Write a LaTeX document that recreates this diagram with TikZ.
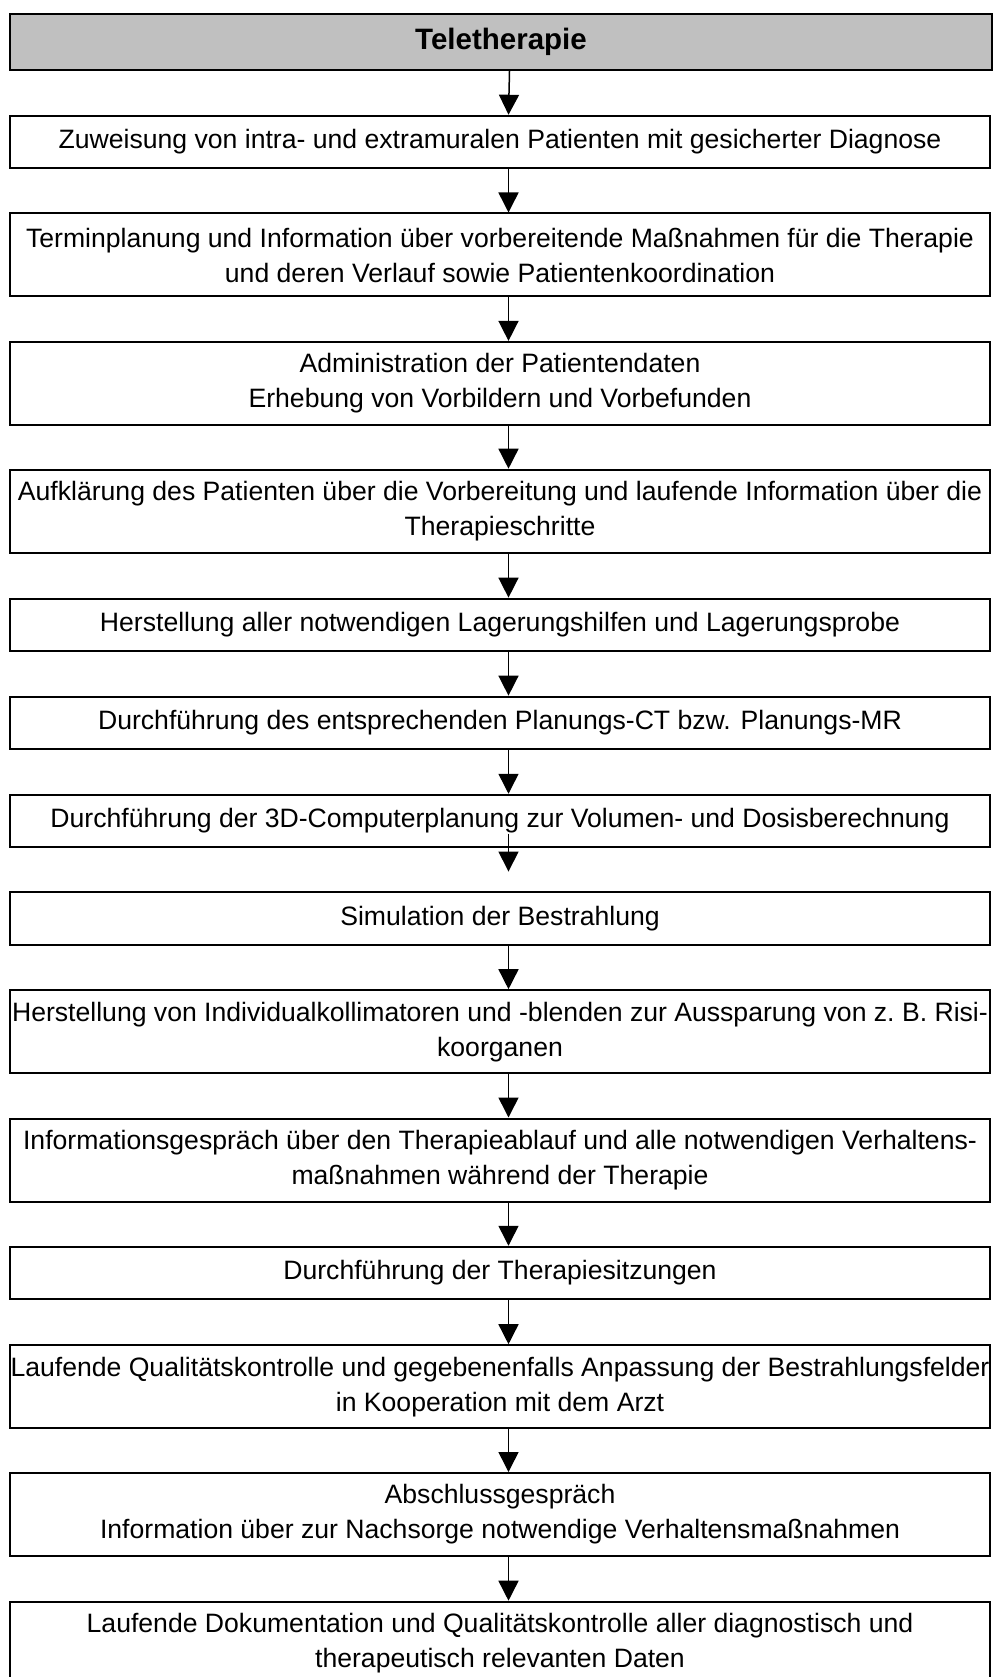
\documentclass[tikz,border=0pt]{standalone}
\usepackage{fontspec}
\setmainfont{Liberation Sans}
\usetikzlibrary{arrows.meta}
\definecolor{headgray}{RGB}{192,192,192}
\begin{document}
\begin{tikzpicture}[x=1pt,y=-1pt,
  stepbox/.style={draw=black,line width=2pt,minimum width=980pt,inner sep=0pt,align=center,
    font=\fontsize{26.6}{35}\selectfont},
  onebox/.style={stepbox,minimum height=52.5pt},
  twobox/.style={stepbox,minimum height=83pt},
  headbox/.style={draw=black,line width=2pt,fill=headgray,minimum width=982pt,minimum height=56pt,
    inner sep=0pt,font=\fontsize{29.5}{35}\selectfont\bfseries},
  arr/.style={line width=1.5pt,-{Triangle[width=20pt,length=20pt]}}]
\useasboundingbox (0,0) rectangle (993,1677);
\fill[white] (0,0) rectangle (993,1677);
\node[headbox] (h) at (501,42) {Teletherapie};
\node[onebox] (b1) at (500,142) {Zuweisung von intra- und extramuralen Patienten mit gesicherter Diagnose};
\node[twobox] (b2) at (500,255) {Terminplanung und Information über vorbereitende Maßnahmen für die Therapie\\und deren Verlauf sowie Patientenkoordination};
\node[twobox] (b3) at (500,383.4) {Administration der Patientendaten\\Erhebung von Vorbildern und Vorbefunden};
\node[twobox] (b4) at (500,511.2) {Aufklärung des Patienten über die Vorbereitung und laufende Information über die\\Therapieschritte};
\node[onebox] (b5) at (500,624.9) {Herstellung aller notwendigen Lagerungshilfen und Lagerungsprobe};
\node[onebox] (b6) at (500,722.9) {Durchführung des entsprechenden Planungs-CT bzw. Planungs-MR};
\node[onebox] (b7) at (500,821) {Durchführung der 3D-Computerplanung zur Volumen- und Dosisberechnung};
\node[onebox] (b8) at (500,918.5) {Simulation der Bestrahlung};
\node[twobox] (b9) at (500,1031.7) {Herstellung von Individualkollimatoren und -blenden zur Aussparung von z.\ B. Risi-\\koorganen};
\node[twobox] (b10) at (500,1160) {Informationsgespräch über den Therapieablauf und alle notwendigen Verhaltens-\\maßnahmen während der Therapie};
\node[onebox] (b11) at (500,1273) {Durchführung der Therapiesitzungen};
\node[twobox] (b12) at (500,1386.7) {Laufende Qualitätskontrolle und gegebenenfalls Anpassung der Bestrahlungsfelder\\in Kooperation mit dem Arzt};
\node[twobox] (b13) at (500,1514.5) {Abschlussgespräch\\Information über zur Nachsorge notwendige Verhaltensmaßnahmen};
\node[twobox] (b14) at (500,1643.2) {Laufende Dokumentation und Qualitätskontrolle aller diagnostisch und\\therapeutisch relevanten Daten};
\foreach \a/\b in {h/b1,b1/b2,b2/b3,b3/b4,b4/b5,b5/b6,b6/b7,b8/b9,b9/b10,b10/b11,b11/b12,b12/b13,b13/b14}
  \draw[arr] ([xshift=8.5pt]\a.south) -- ([xshift=8.5pt]\b.north);
\draw[arr] ([xshift=8.5pt,yshift=14.7pt]b7.south) -- ([xshift=8.5pt,yshift=19.7pt]b8.north);
\end{tikzpicture}
\end{document}
